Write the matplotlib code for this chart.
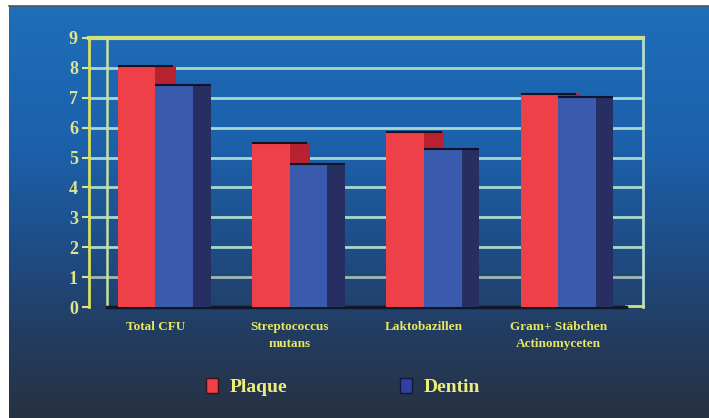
import numpy as np
from matplotlib import pyplot as plt
from matplotlib.patches import Patch

categories = ["Total CFU", "Streptococcus\nmutans", "Laktobazillen", "Gram+ Stäbchen\nActinomyceten"]
plaque = [8.05, 5.48, 5.85, 7.12]
dentin = [7.42, 4.77, 5.28, 7.02]
yticks = list(range(0, 10))

RED = "#ee4048"
RED_SIDE = "#b82230"
BLUE = "#3a5aae"
BLUE_SIDE = "#262e62"
YELLOW = "#e2e874"
GRID = "#a8d8cc"

plt.rcParams["font.family"] = ["Liberation Serif", "DejaVu Serif"]
plt.rcParams["font.weight"] = "bold"

fig = plt.figure(figsize=(7.09, 4.18), dpi=100, facecolor="white")

# gradient backdrop, white margin left and top
bg = fig.add_axes([9 / 709, 0, 700 / 709, 412 / 418])
stops = np.array([0.0, 0.35, 0.6, 0.8, 1.0])
cols = np.array([[30, 110, 186], [28, 96, 170], [31, 76, 132], [35, 60, 96], [38, 50, 66]]) / 255
t = np.linspace(0, 1, 300)
grad = np.stack([np.interp(t, stops, cols[:, k]) for k in range(3)], axis=1)
bg.imshow(grad[:, None, :], aspect="auto", extent=(0, 1, 0, 1))
bg.set_xlim(0, 1)
bg.set_ylim(0, 1)
bg.set_xticks([])
bg.set_yticks([])
for s in ["left", "right", "bottom"]:
    bg.spines[s].set_visible(False)
bg.spines["top"].set_color("#555555")
bg.spines["top"].set_linewidth(1.2)

ax = fig.add_axes([89 / 709, (418 - 307) / 418, 554 / 709, 269 / 418])
ax.patch.set_alpha(0)
x = np.arange(len(categories))
w = 0.28
d = 0.13

# grid
for v in yticks[1:]:
    if v == 9:
        ax.axhline(v, xmin=0, xmax=1, color="#d4e07a", lw=3, zorder=1, clip_on=False)
    elif v == 1:
        ax.axhline(v, color="#9fb8b4", lw=2, zorder=1)
    else:
        ax.axhline(v, color=GRID, lw=2, zorder=1)
ax.plot([-0.36, -0.36], [0, 9], color="#c8e0a0", lw=1.8, zorder=1)
ax.plot([3.63, 3.63], [0, 9], color="#b4dcd0", lw=2, zorder=1, clip_on=False)
ax.plot([3.50, 3.63], [0.02, 0.02], color="#d4e07a", lw=2, zorder=1, clip_on=False)
ax.plot([-0.36, 3.50], [0, 0], color="#101828", lw=2.5, zorder=2, clip_on=False)

# bars with a dark depth side
ax.bar(x - w, plaque, width=w, align="edge", color=RED, zorder=4)
ax.bar(x, plaque, width=d + 0.02, align="edge", color=RED_SIDE, zorder=3)
ax.bar(x, dentin, width=w, align="edge", color=BLUE, zorder=5)
ax.bar(x + w, dentin, width=d, align="edge", color=BLUE_SIDE, zorder=5)
ax.hlines(plaque, x - w, x + d, color="#14121e", lw=1.5, zorder=4)
ax.hlines(dentin, x, x + w + d, color="#101428", lw=1.5, zorder=6)

ax.set_xlim(-0.495, 3.63)
ax.set_ylim(0, 9)
ax.set_yticks(yticks)
ax.set_xticks(x)
ax.set_xticklabels(categories, fontsize=9.5, color="#e6e860", linespacing=1.6)
ax.tick_params(axis="x", length=0, pad=10)
ax.tick_params(axis="y", colors="#dfe48a", labelsize=13, length=5, width=1.5, pad=3)
for s in ["top", "right", "bottom"]:
    ax.spines[s].set_visible(False)
ax.spines["left"].set_color("#d8e060")
ax.spines["left"].set_linewidth(2)

handles = [Patch(facecolor=RED, edgecolor="#401018", label="Plaque"),
           Patch(facecolor="#3040a4", edgecolor="#101838", label="Dentin")]
leg = fig.legend(handles=handles, loc="center", bbox_to_anchor=(0.484, 0.074), ncol=2,
                 frameon=False, fontsize=14, handlelength=0.6, handleheight=0.8,
                 handletextpad=0.6, columnspacing=5.8)
for txt in leg.get_texts():
    txt.set_color("#ecee78")

plt.savefig("out.png", dpi=100, facecolor="white")
